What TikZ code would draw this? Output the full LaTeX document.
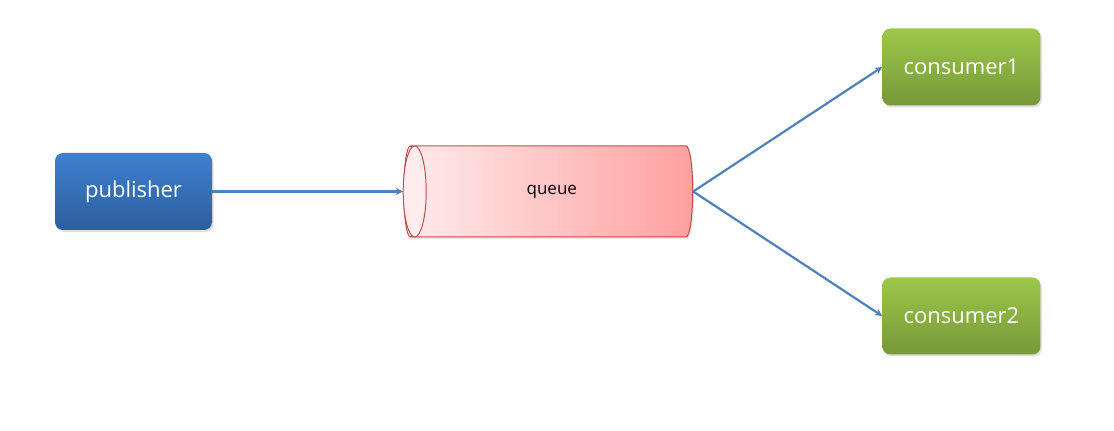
\documentclass[tikz,border=0pt]{standalone}
\usepackage{fontspec}
\setmainfont{Open Sans}
\usetikzlibrary{shapes.geometric, arrows, positioning, shadows}
\definecolor{pubtop}{HTML}{3F80CF}
\definecolor{pubbot}{HTML}{2B5E9E}
\definecolor{contop}{HTML}{9DC84A}
\definecolor{conbot}{HTML}{76983A}
\definecolor{qleft}{HTML}{FFECEC}
\definecolor{qright}{HTML}{FFA0A0}
\definecolor{qedge}{HTML}{C0504D}
\definecolor{arrowblue}{HTML}{4F81BD}
\tikzstyle{publisherbox} = [rectangle, rounded corners=8pt,
minimum width=157pt,
minimum height=77pt,
text centered,
top color=pubtop,
bottom color=pubbot,
text=white,
font=\fontsize{22pt}{26pt}\selectfont,
drop shadow={opacity=0.25, shadow xshift=1.5pt, shadow yshift=-2pt}]
\tikzstyle{consumerbox} = [rectangle, rounded corners=8pt,
minimum width=158pt,
minimum height=77pt,
text centered,
top color=contop,
bottom color=conbot,
text=white,
font=\fontsize{22pt}{26pt}\selectfont,
drop shadow={opacity=0.25, shadow xshift=1.5pt, shadow yshift=-2pt}]
\tikzstyle{queuetube} = [cylinder, shape border rotate=180,
aspect=1,
minimum width=91pt,
minimum height=289pt,
inner sep=0pt,
line width=1pt,
draw=qedge,
left color=qleft,
right color=qright,
font=\fontsize{17pt}{20pt}\selectfont,
drop shadow={opacity=0.2, shadow xshift=1.5pt, shadow yshift=-2pt}]
\tikzstyle{arrow} = [line width=2.2pt, draw=arrowblue, ->, >=stealth]

\begin{document}
\begin{tikzpicture}[node distance=190pt]
\useasboundingbox (0pt,0pt) rectangle (1114pt,431pt);

\node (publisher) [publisherbox] at (133.5pt,239.5pt) {publisher};

\node (queue) [queuetube, right=191pt of publisher] {queue};
\draw [draw=qedge, line width=1pt, fill=qleft] ([xshift=11.5pt]queue.west) ellipse (11.5pt and 45.5pt);

\node (consumer1) [consumerbox, right=189pt of queue, yshift=124.5pt] {consumer1};

\node (consumer2) [consumerbox, right=189pt of queue, yshift=-124.5pt] {consumer2};

\draw [arrow] (publisher) -- (queue.west);
\draw [arrow] (queue.east) -- (consumer1.west);
\draw [arrow] (queue.east) -- (consumer2.west);
\end{tikzpicture}
\end{document}
